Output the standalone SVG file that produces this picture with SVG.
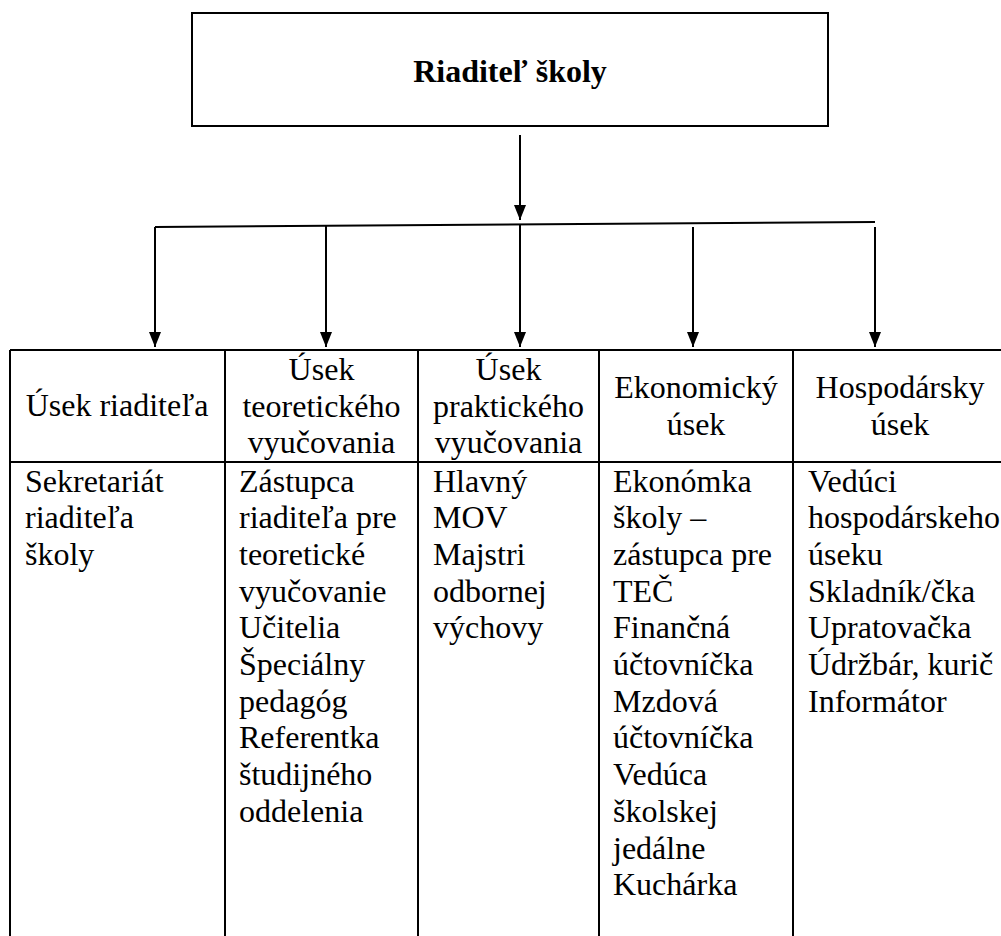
<svg xmlns="http://www.w3.org/2000/svg" width="1001" height="936" viewBox="0 0 1001 936">
<style>
  .box { fill: #fff; stroke: #000; stroke-width: 2; }
  .grid { stroke: #000; stroke-width: 2; fill: none; }
  .conn { stroke: #000; stroke-width: 2; fill: none; }
  text { font-family: "Liberation Serif", Tinos, "Times New Roman", "DejaVu Serif", serif; font-size: 32px; fill: #000; }
  .title { font-weight: bold; }
  .c { text-anchor: middle; }
</style>
<defs>
  <marker id="arr" markerUnits="userSpaceOnUse" markerWidth="15" markerHeight="12" viewBox="0 0 15 12" refX="15" refY="6" orient="auto">
    <path d="M0,0 L15,6 L0,12 Z" fill="#000"/>
  </marker>
</defs>
<rect width="1001" height="936" fill="#fff"/>

<g id="riaditel">
  <rect class="box" x="192" y="13" width="636" height="113"/>
  <text class="title c" x="510" y="82" font-family="Liberation Serif, serif">Riaditeľ školy</text>
</g>

<g id="connectors">
  <path class="conn" d="M520,135 L520,220" marker-end="url(#arr)"/>
  <path class="conn" d="M155,227 L875,222"/>
  <path class="conn" d="M155,227 L155,347" marker-end="url(#arr)"/>
  <path class="conn" d="M326,226 L326,347" marker-end="url(#arr)"/>
  <path class="conn" d="M520,225 L520,347" marker-end="url(#arr)"/>
  <path class="conn" d="M693,227 L693,347" marker-end="url(#arr)"/>
  <path class="conn" d="M875,227 L875,347" marker-end="url(#arr)"/>
</g>

<g id="table-grid">
  <path class="grid" d="M10,350 L1010,350 M10,462 L1010,462 M10,350 L10,940 M225,350 L225,940 M418,350 L418,940 M599,350 L599,940 M793,350 L793,940 M1007,350 L1007,940"/>
</g>

<g id="usek-riaditela">
  <text class="c" x="117" y="416">Úsek riaditeľa</text>
  <text x="25" y="491.5">Sekretariát</text>
  <text x="25" y="528.2">riaditeľa</text>
  <text x="25" y="564.9">školy</text>
</g>

<g id="usek-teoretickeho">
  <text class="c" x="321.5" y="380">Úsek</text>
  <text class="c" x="321.5" y="416.5">teoretického</text>
  <text class="c" x="321.5" y="452.5">vyučovania</text>
  <text x="239" y="491.5">Zástupca</text>
  <text x="239" y="528.2">riaditeľa pre</text>
  <text x="239" y="564.9">teoretické</text>
  <text x="239" y="601.6">vyučovanie</text>
  <text x="239" y="638.3">Učitelia</text>
  <text x="239" y="675">Špeciálny</text>
  <text x="239" y="711.7">pedagóg</text>
  <text x="239" y="748.4">Referentka</text>
  <text x="239" y="785.1">študijného</text>
  <text x="239" y="821.8">oddelenia</text>
</g>

<g id="usek-praktickeho">
  <text class="c" x="508.5" y="380">Úsek</text>
  <text class="c" x="508.5" y="416.5">praktického</text>
  <text class="c" x="508.5" y="452.5">vyučovania</text>
  <text x="433" y="491.5">Hlavný</text>
  <text x="433" y="528.2">MOV</text>
  <text x="433" y="564.9">Majstri</text>
  <text x="433" y="601.6">odbornej</text>
  <text x="433" y="638.3">výchovy</text>
</g>

<g id="ekonomicky-usek">
  <text class="c" x="696" y="398">Ekonomický</text>
  <text class="c" x="696" y="434.5">úsek</text>
  <text x="613" y="491.5">Ekonómka</text>
  <text x="613" y="528.2">školy –</text>
  <text x="613" y="564.9">zástupca pre</text>
  <text x="613" y="601.6">TEČ</text>
  <text x="613" y="638.3">Finančná</text>
  <text x="613" y="675">účtovníčka</text>
  <text x="613" y="711.7">Mzdová</text>
  <text x="613" y="748.4">účtovníčka</text>
  <text x="613" y="785.1">Vedúca</text>
  <text x="613" y="821.8">školskej</text>
  <text x="613" y="858.5">jedálne</text>
  <text x="613" y="895.2">Kuchárka</text>
</g>

<g id="hospodarsky-usek">
  <text class="c" x="900" y="398">Hospodársky</text>
  <text class="c" x="900" y="434.5">úsek</text>
  <text x="808" y="491.5">Vedúci</text>
  <text x="808" y="528.2">hospodárskeho</text>
  <text x="808" y="564.9">úseku</text>
  <text x="808" y="601.6">Skladník/čka</text>
  <text x="808" y="638.3">Upratovačka</text>
  <text x="808" y="675">Údržbár, kurič</text>
  <text x="808" y="711.7">Informátor</text>
</g>
</svg>
